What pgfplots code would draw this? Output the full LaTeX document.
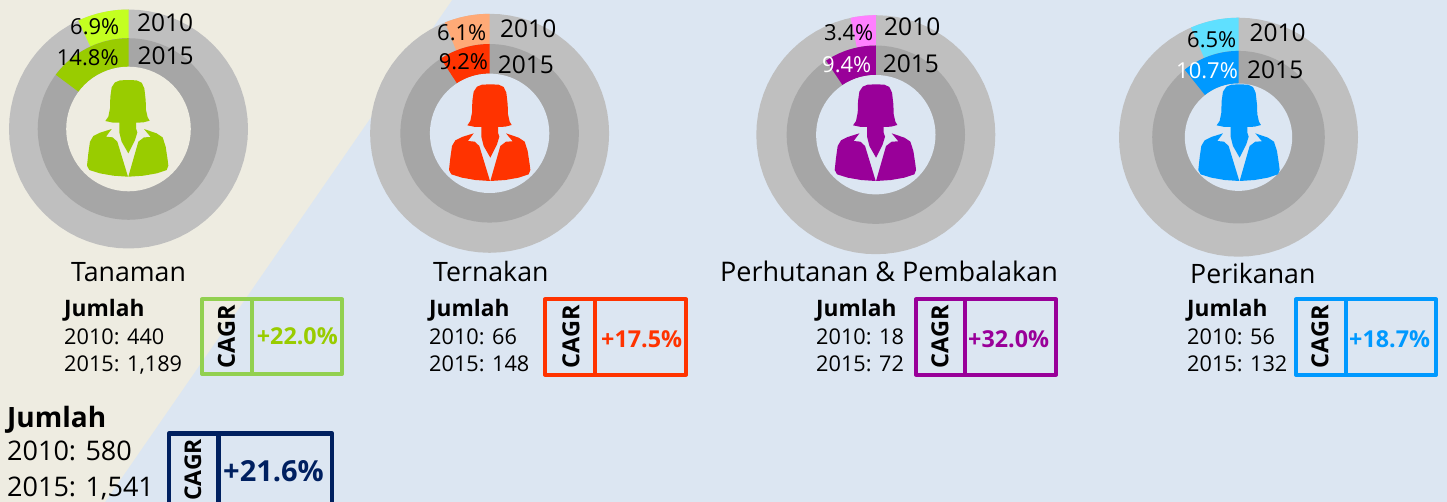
\documentclass[border=0pt]{standalone}
\usepackage{fontspec}
\setmainfont{Open Sans}
\usepackage{pgfplots}
\usepackage{pgfplotstable}
\pgfplotsset{compat=1.18}

\definecolor{beige}{HTML}{EEECE1}
\definecolor{pale}{HTML}{DCE6F2}
\definecolor{ringa}{HTML}{BFBFBF}
\definecolor{ringb}{HTML}{A6A6A6}
\definecolor{cgreen}{HTML}{99CC00}
\definecolor{lgreen}{HTML}{C4FF20}
\definecolor{bgreen}{HTML}{92D050}
\definecolor{cred}{HTML}{FF3300}
\definecolor{lred}{HTML}{FFAA77}
\definecolor{cpurple}{HTML}{990099}
\definecolor{lpurple}{HTML}{FF80FF}
\definecolor{cblue}{HTML}{0099FF}
\definecolor{lblue}{HTML}{5FE0FF}
\definecolor{navy}{HTML}{002060}

% angles round a whole disc
\pgfplotstableread[row sep=\\]{a b\\0 1\\5 1\\10 1\\15 1\\20 1\\25 1\\30 1\\35 1\\40 1\\45 1\\50 1\\55 1\\60 1\\65 1\\70 1\\75 1\\80 1\\85 1\\90 1\\95 1\\100 1\\105 1\\110 1\\115 1\\120 1\\125 1\\130 1\\135 1\\140 1\\145 1\\150 1\\155 1\\160 1\\165 1\\170 1\\175 1\\180 1\\185 1\\190 1\\195 1\\200 1\\205 1\\210 1\\215 1\\220 1\\225 1\\230 1\\235 1\\240 1\\245 1\\250 1\\255 1\\260 1\\265 1\\270 1\\275 1\\280 1\\285 1\\290 1\\295 1\\300 1\\305 1\\310 1\\315 1\\320 1\\325 1\\330 1\\335 1\\340 1\\345 1\\350 1\\355 1\\}\circsteps

% arc steps, o=1 outer edge, o=0 inner edge
\pgfplotstableread{
t o
0 1
0.1 1
0.2 1
0.3 1
0.4 1
0.5 1
0.6 1
0.7 1
0.8 1
0.9 1
1 1
1 0
0.9 0
0.8 0
0.7 0
0.6 0
0.5 0
0.4 0
0.3 0
0.2 0
0.1 0
0 0
}\arcsteps

% person, read off the first donut
\pgfplotstableread{
x y
385 240
410 241
425 248
433 265
437 300
438 330
443 352
449 362
430 367
408 368
408 385
412 397
405 420
385 460
365 425
358 397
358 368
340 368
316 363
325 350
330 325
331 290
335 262
345 247
360 241
}\personhead
\pgfplotstableread{
x y
335 387
318 410
338 412
352 425
384 530
340 527
300 520
268 510
261 497
265 460
270 425
280 408
300 398
}\personleft
\pgfplotstableread{
x y
385 530
415 425
432 412
452 411
432 387
470 400
488 412
497 440
503 480
505 497
500 510
470 520
430 527
}\personright

% cx cy router rinner percent colour
\newcommand{\slice}[6]{
  \addplot[fill=#6,draw=none] table[
    x expr={#1-(#3*\thisrow{o}+#4*(1-\thisrow{o}))*sin(3.6*#5*\thisrow{t})},
    y expr={#2-(#3*\thisrow{o}+#4*(1-\thisrow{o}))*cos(3.6*#5*\thisrow{t})}
  ] {\arcsteps} -- cycle;
}
\newcommand{\disc}[4]{
  \addplot[fill=#4,draw=none] table[
    x expr={#1+#3*sin(\thisrow{a})},
    y expr={#2+#3*cos(\thisrow{a})}
  ] {\circsteps} -- cycle;
}
% cx cy R r1 r0 p2010 p2015 light dark hole
\newcommand{\donut}[9]{
  \disc{#1}{#2}{#3}{ringa}
  \slice{#1}{#2}{#3}{#4}{#6}{#8}
  \disc{#1}{#2}{#4}{ringb}
  \slice{#1}{#2}{#4}{#5}{#7}{#9}
}
\newcommand{\person}[3]{
  \addplot[fill=#3,draw=none] table[x expr={#1+(\thisrow{x}-384)/3},y expr={#2+(\thisrow{y}-530)/3}] {\personhead} -- cycle;
  \addplot[fill=#3,draw=none] table[x expr={#1+(\thisrow{x}-384)/3},y expr={#2+(\thisrow{y}-530)/3}] {\personleft} -- cycle;
  \addplot[fill=#3,draw=none] table[x expr={#1+(\thisrow{x}-384)/3},y expr={#2+(\thisrow{y}-530)/3}] {\personright} -- cycle;
}
\newcommand{\txt}[5][black]{
  \node[anchor=base west,inner sep=0pt,text=#1,font=\fontsize{#4}{#4}\selectfont] at (axis cs:#2,#3) {#5};
}
% x0 y0 x1 y1 divider colour
\newcommand{\cagrbox}[7]{
  \addplot[draw=#6,line width=#7pt,line join=round] coordinates {(#1,#2) (#3,#2) (#3,#4) (#1,#4)} -- cycle;
  \addplot[draw=#6,line width=#7pt] coordinates {(#5,#2) (#5,#4)};
}
\newcommand{\cagr}[3]{
  \node[rotate=90,anchor=center,inner sep=0pt,font=\fontsize{#3}{#3}\selectfont\bfseries] at (axis cs:#1,#2) {CAGR};
}
\newcommand{\jumlah}[4]{
  \txt{#1}{316.5}{22.7}{\textbf{Jumlah}}
  \txt{#1}{344}{21.7}{2010: #2}
  \txt{#1}{371}{21.7}{2015: #3}
}

\begin{document}
\begin{tikzpicture}
\begin{axis}[
  scale only axis,
  width=1447pt,
  height=502pt,
  xmin=0,xmax=1447,
  ymin=0,ymax=502,
  y dir=reverse,
  hide axis,
]
\addplot[fill=pale,draw=none] coordinates {(0,0) (1447,0) (1447,502) (0,502)} -- cycle;
\addplot[fill=beige,draw=none] coordinates {(0,0) (452,0) (105,502) (0,502)} -- cycle;

\donut{128.5}{129}{119.5}{90.8}{62.3}{6.9}{14.8}{lgreen}{cgreen}
\disc{128.5}{129}{62.3}{beige}
\donut{489.6}{133.3}{119.5}{89.3}{59.7}{6.1}{9.2}{lred}{cred}
\disc{489.6}{133.3}{59.7}{pale}
\donut{875.8}{134.7}{119.5}{89.2}{59.7}{3.4}{9.4}{lpurple}{cpurple}
\disc{875.8}{134.7}{59.7}{pale}
\donut{1238.5}{137.2}{119.5}{86.3}{53.7}{6.5}{10.7}{lblue}{cblue}
\disc{1238.5}{137.2}{53.7}{pale}

\person{128}{176.7}{cgreen}
\person{490}{181}{cred}
\person{875.7}{181}{cpurple}
\person{1239.3}{181}{cblue}

\txt{137}{31.7}{24.5}{2010}
\txt{137.5}{65}{24.5}{2015}
\txt{70}{34.3}{22}{6.9\%}
\txt{56.7}{66}{22}{14.8\%}
\txt{500}{37.3}{24.5}{2010}
\txt{497.7}{74}{24.5}{2015}
\txt{437}{40.3}{22}{6.1\%}
\txt{438.7}{69.7}{22}{9.2\%}
\txt{884}{35.3}{24.5}{2010}
\txt{882.7}{72.3}{24.5}{2015}
\txt{824}{40.7}{22}{3.4\%}
\txt[white]{822}{72.3}{22}{9.4\%}
\txt{1249.3}{42}{24.5}{2010}
\txt{1247}{79}{24.5}{2015}
\txt{1187}{47.7}{22}{6.5\%}
\txt[white]{1176}{79}{22}{10.7\%}

\txt{71}{281.5}{26.7}{Tanaman}
\txt{433}{281.5}{26.7}{Ternakan}
\txt{720}{282}{27}{Perhutanan \& Pembalakan}
\txt{1190}{283.5}{26.7}{Perikanan}

\jumlah{64}{440}{1,189}{}
\jumlah{429}{66}{148}{}
\jumlah{816}{18}{72}{}
\jumlah{1187}{56}{132}{}

\cagrbox{202}{299.5}{342}{374}{251.5}{bgreen}{4}
\cagr{226.5}{336.5}{23.5}
\txt[cgreen]{256.7}{344}{23.3}{\textbf{+22.0\%}}
\cagrbox{545}{299.5}{686}{374.5}{594.5}{cred}{4}
\cagr{571}{336.5}{23.5}
\txt[cred]{601}{347}{23.3}{\textbf{+17.5\%}}
\cagrbox{916}{299.5}{1056}{374.5}{965}{cpurple}{4}
\cagr{940}{336.5}{23.5}
\txt[cpurple]{968}{347}{23.3}{\textbf{+32.0\%}}
\cagrbox{1296}{299.5}{1436}{375}{1345.5}{cblue}{4}
\cagr{1320}{336.5}{23.5}
\txt[cblue]{1349}{347}{23.3}{\textbf{+18.7\%}}

\txt{7}{427.5}{28}{\textbf{Jumlah}}
\txt{7}{460.7}{27}{2010: 580}
\txt{7}{496.7}{27}{2015: 1,541}
\cagrbox{169}{433.5}{332}{520}{218.5}{navy}{4.7}
\cagr{193}{470}{23}
\txt[navy]{223}{481.7}{29}{\textbf{+21.6\%}}
\end{axis}
\end{tikzpicture}
\end{document}
